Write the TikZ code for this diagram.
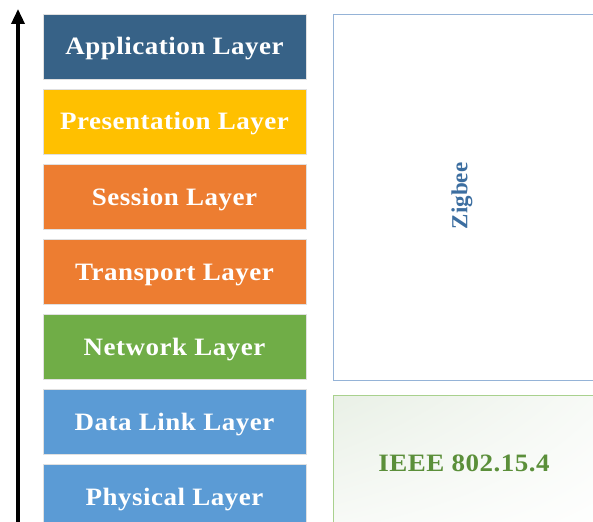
\documentclass[tikz,border=0pt]{standalone}
\usepackage{fontspec}
\setmainfont{Liberation Serif}
\usetikzlibrary{arrows.meta,shadings}
\definecolor{appblue}{HTML}{376287}
\definecolor{presyellow}{HTML}{FFC000}
\definecolor{sessorange}{HTML}{ED7D31}
\definecolor{netgreen}{HTML}{70AD47}
\definecolor{linkblue}{HTML}{5B9BD5}
\definecolor{zigborder}{HTML}{95B3D7}
\definecolor{zigtext}{HTML}{3C6EA0}
\definecolor{ieeeborder}{HTML}{A9D18E}
\definecolor{ieeetext}{HTML}{5B8F3A}
\definecolor{ieeefill}{HTML}{E9F0E6}
\tikzset{
  bigfont/.style={font=\fontsize{25}{28}\selectfont\bfseries\addfontfeatures{FakeStretch=1.08,LetterSpace=2}},
  layerbox/.style={draw=black!12, line width=0.8pt, minimum width=263pt, minimum height=65pt,
    inner sep=0pt, text=white, bigfont},
}
\begin{document}
\begin{tikzpicture}[x=1pt,y=-1pt]
\useasboundingbox (0,0) rectangle (593,521);
\clip (0,0) rectangle (593,521);
% layers
\node[layerbox, fill=appblue]    (app)  at (174.5,47)  {};
\node[layerbox, fill=presyellow] (pres) at (174.5,122) {};
\node[layerbox, fill=sessorange] (sess) at (174.5,197) {};
\node[layerbox, fill=sessorange] (trans) at (174.5,272) {};
\node[layerbox, fill=netgreen]   (net)  at (174.5,347) {};
\node[layerbox, fill=linkblue]   (dl)   at (174.5,422) {};
\node[layerbox, fill=linkblue]   (phy)  at (174.5,497) {};
\foreach \n/\t in {app/Application Layer, pres/Presentation Layer, sess/Session Layer,
    trans/Transport Layer, net/Network Layer, dl/Data Link Layer, phy/Physical Layer}
  \node[text=white, bigfont, anchor=base] (\n-l) at ([yshift=-8pt]\n.center) {\t};
% Zigbee box
\node[draw=zigborder, line width=1pt, minimum width=280pt, minimum height=366pt, inner sep=0pt, anchor=north west]
  (zig) at (333,14) {};
\node[rotate=90, text=zigtext, font=\fontsize{23}{25}\selectfont\bfseries] (zigl) at (462,196) {Zigbee};
% IEEE box
\shade[upper left=ieeefill, upper right=white!70!ieeefill, lower left=white!75!ieeefill, lower right=white]
  (333,395) rectangle (610,540);
\node[draw=ieeeborder, line width=1pt, minimum width=277pt, minimum height=145pt, inner sep=0pt, anchor=north west]
  (ieee) at (333,395) {};
\node[text=ieeetext, bigfont, anchor=base] (ieeel) at (464,471) {IEEE 802.15.4};
% arrow
\coordinate (abot) at (18,530);
\coordinate (atop) at (18,9);
\draw[line width=3.4pt, -{Triangle[length=15pt,width=13pt]}] (abot) -- (atop);
\end{tikzpicture}
\end{document}
